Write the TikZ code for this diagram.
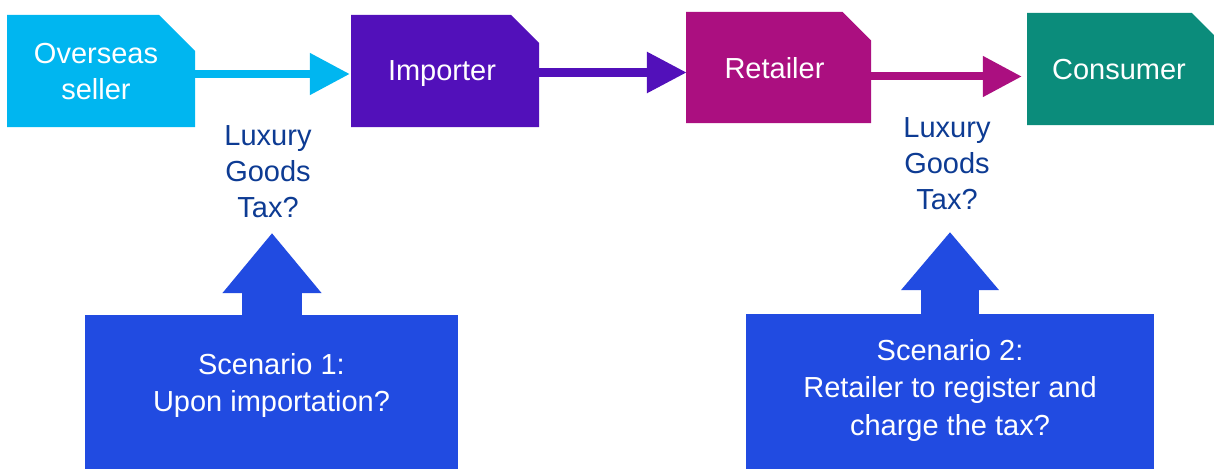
\documentclass[tikz,border=0pt]{standalone}
\usepackage{fontspec}
\setmainfont{Liberation Sans}
\usetikzlibrary{arrows.meta,shapes.misc}
\definecolor{ccyan}{HTML}{00B6F0}
\definecolor{cpurple}{HTML}{5210BA}
\definecolor{cmagenta}{HTML}{AB0F80}
\definecolor{cteal}{HTML}{0B8C7B}
\definecolor{cblue}{HTML}{214BE1}
\definecolor{cdark}{HTML}{0D3B93}
\tikzset{
  flowbox/.style={chamfered rectangle, chamfered rectangle corners=north east,
    chamfered rectangle xsep=18pt, chamfered rectangle ysep=18pt,
    inner sep=0pt, text=white, align=center, text depth=0pt,
    font=\fontsize{29}{36}\selectfont},
  flowarrow/.style={line width=8pt},
  luxlabel/.style={text=cdark, align=center, inner sep=0pt, anchor=north,
    font=\fontsize{29}{36}\selectfont},
  scenbox/.style={fill=cblue, inner sep=0pt},
  scentext/.style={text=white, align=center, inner sep=0pt, anchor=north,
    font=\fontsize{29}{37.5}\selectfont},
  uparrow/.style={draw=cblue, line width=#1}
}
\begin{document}
\begin{tikzpicture}[x=1pt,y=-1pt]
\useasboundingbox (0,0) rectangle (1214,468);
% main boxes
\node[flowbox, fill=ccyan, minimum width=188pt, minimum height=112pt] (a) at (101,71) {Overseas\hspace*{10pt}\\seller\hspace*{10pt}};
\node[flowbox, fill=cpurple, minimum width=188pt, minimum height=112pt] (b) at (445,71) {Importer\hspace*{6pt}};
\node[flowbox, fill=cmagenta, minimum width=185pt, minimum height=111pt] (c) at (778.5,67.5) {Retailer\hspace*{8pt}};
\node[flowbox, fill=cteal, minimum width=193pt, minimum height=112pt] (d) at (1123.5,69) {Consumer\hspace*{9pt}};
% horizontal connectors
\draw[flowarrow, draw=ccyan, -{Triangle[length=40pt,width=40pt]}, shorten >=1pt]
  ([yshift=-3pt]a.east) -- ([yshift=-3pt]b.west);
\draw[flowarrow, draw=cpurple, line width=9pt, -{Triangle[length=40pt,width=39pt]}, shorten >=-1pt]
  ([yshift=-1.5pt]b.east) -- ([yshift=-5pt]c.west);
\draw[flowarrow, draw=cmagenta, -{Triangle[length=39pt,width=39pt]}, shorten >=5pt]
  ([yshift=-9pt]c.east) -- ([yshift=-7.5pt]d.west);
% labels
\node[luxlabel] (lux1) at (268,125) {Luxury\\Goods\\Tax?};
\node[luxlabel] (lux2) at (947,117) {Luxury\\Goods\\Tax?};
% scenario boxes
\node[scenbox, minimum width=373pt, minimum height=155pt] (s1) at (271.5,392.5) {};
\node[scenbox, minimum width=408pt, minimum height=156pt] (s2) at (950,392) {};
\node[scentext] (t1) at (271.5,353) {Scenario 1:\\Upon importation?};
\node[scentext] (t2) at (950,339) {Scenario 2:\\Retailer to register and\\charge the tax?};
% up arrows
\coordinate (tip1) at (272,233);
\coordinate (tip2) at (950,232);
\draw[uparrow=60pt, -{Triangle[length=60pt,width=95pt]}] (s1.north -| tip1) -- (tip1);
\draw[uparrow=58pt, -{Triangle[length=58pt,width=94pt]}] (s2.north -| tip2) -- (tip2);
\end{tikzpicture}
\end{document}
